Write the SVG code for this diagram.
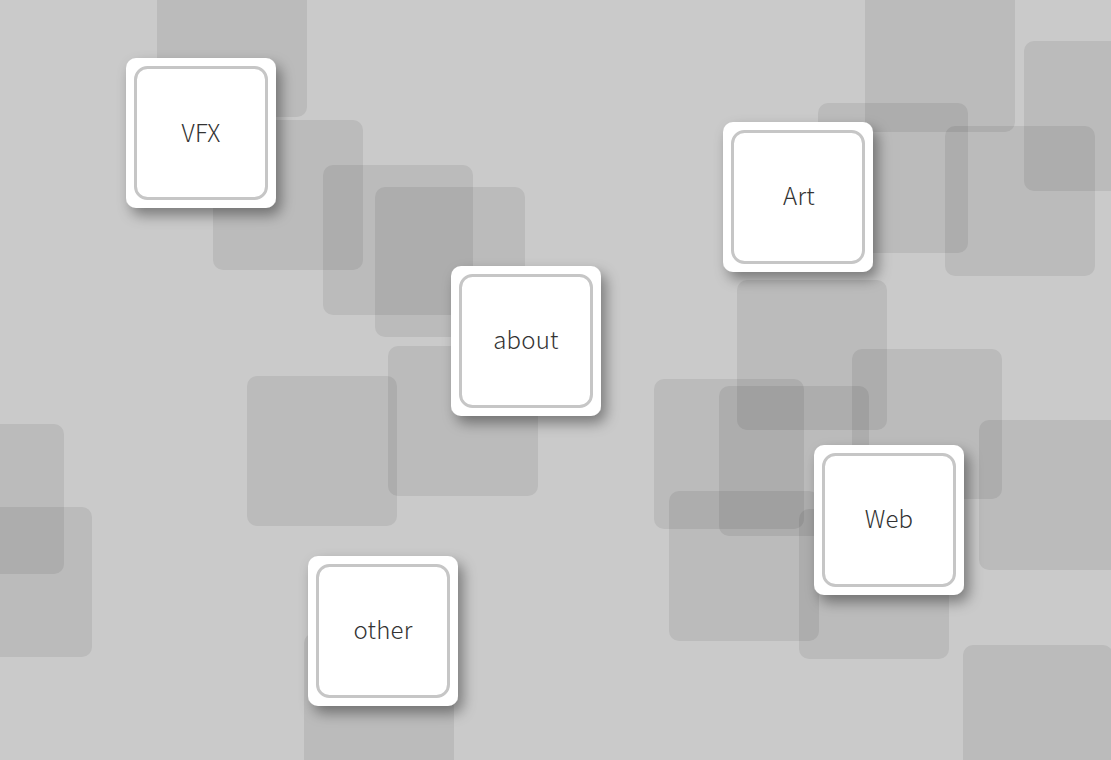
<svg xmlns="http://www.w3.org/2000/svg" width="1111" height="760" viewBox="0 0 1111 760">
<style>
.sq{fill:#000;fill-opacity:0.075}
.card{fill:#fff}
.inner{fill:#fff;stroke:#c6c6c6;stroke-width:3}
.lbl{font-family:"Noto Sans CJK JP","Noto Sans",Roboto,sans-serif;font-weight:300;font-size:24px;fill:#333;text-anchor:middle;letter-spacing:0.2px}
</style>
<defs>
<filter id="sh" x="-30%" y="-30%" width="170%" height="170%">
<feDropShadow dx="5" dy="7" stdDeviation="7" flood-color="#000" flood-opacity="0.4"/>
</filter>
</defs>
<rect x="0" y="0" width="1111" height="760" fill="#cacaca"/>
<g id="background">
<rect class="sq" x="157" y="-33" width="150" height="150" rx="10"/>
<rect class="sq" x="213" y="120" width="150" height="150" rx="10"/>
<rect class="sq" x="323" y="165" width="150" height="150" rx="10"/>
<rect class="sq" x="375" y="187" width="150" height="150" rx="10"/>
<rect class="sq" x="388" y="346" width="150" height="150" rx="10"/>
<rect class="sq" x="247" y="376" width="150" height="150" rx="10"/>
<rect class="sq" x="-86" y="424" width="150" height="150" rx="10"/>
<rect class="sq" x="-58" y="507" width="150" height="150" rx="10"/>
<rect class="sq" x="304" y="633" width="150" height="150" rx="10"/>
<rect class="sq" x="865" y="-18" width="150" height="150" rx="10"/>
<rect class="sq" x="1024" y="41" width="150" height="150" rx="10"/>
<rect class="sq" x="818" y="103" width="150" height="150" rx="10"/>
<rect class="sq" x="945" y="126" width="150" height="150" rx="10"/>
<rect class="sq" x="737" y="280" width="150" height="150" rx="10"/>
<rect class="sq" x="654" y="379" width="150" height="150" rx="10"/>
<rect class="sq" x="719" y="386" width="150" height="150" rx="10"/>
<rect class="sq" x="852" y="349" width="150" height="150" rx="10"/>
<rect class="sq" x="979" y="420" width="150" height="150" rx="10"/>
<rect class="sq" x="669" y="491" width="150" height="150" rx="10"/>
<rect class="sq" x="799" y="509" width="150" height="150" rx="10"/>
<rect class="sq" x="963" y="645" width="150" height="150" rx="10"/>
</g>
<g id="connectors"></g>
<g id="node-vfx">
<rect class="card" x="126" y="58" width="150" height="150" rx="10" filter="url(#sh)"/>
<rect class="inner" x="135.5" y="67.5" width="131" height="131" rx="12"/>
<text class="lbl" x="201" y="142">VFX</text>
</g>
<g id="node-art">
<rect class="card" x="723" y="122" width="150" height="150" rx="10" filter="url(#sh)"/>
<rect class="inner" x="732.5" y="131.5" width="131" height="131" rx="12"/>
<text class="lbl" x="799" y="205">Art</text>
</g>
<g id="node-about">
<rect class="card" x="451" y="266" width="150" height="150" rx="10" filter="url(#sh)"/>
<rect class="inner" x="460.5" y="275.5" width="131" height="131" rx="12"/>
<text class="lbl" x="526" y="349">about</text>
</g>
<g id="node-web">
<rect class="card" x="814" y="445" width="150" height="150" rx="10" filter="url(#sh)"/>
<rect class="inner" x="823.5" y="454.5" width="131" height="131" rx="12"/>
<text class="lbl" x="889" y="528">Web</text>
</g>
<g id="node-other">
<rect class="card" x="308" y="556" width="150" height="150" rx="10" filter="url(#sh)"/>
<rect class="inner" x="317.5" y="565.5" width="131" height="131" rx="12"/>
<text class="lbl" x="383" y="639">other</text>
</g>
</svg>
